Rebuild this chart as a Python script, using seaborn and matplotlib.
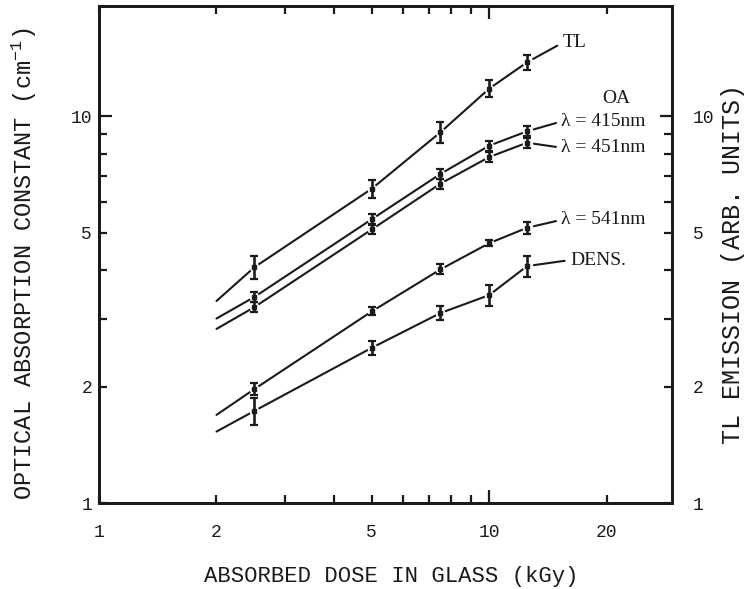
import numpy as np
import pandas as pd
import matplotlib
matplotlib.use("Agg")
import matplotlib.pyplot as plt
import seaborn as sns
from matplotlib.ticker import FixedLocator, FuncFormatter

# ---------------- data ----------------
dose = [2.5, 5.0, 7.5, 10.0, 12.5]                       # kGy
series_names = ["TL", "λ = 415nm", "λ = 451nm", "λ = 541nm", "DENS."]
tl    = [4.07, 6.50, 9.10, 11.80, 13.80]
oa415 = [3.41, 5.42, 7.10, 8.40, 9.15]
oa451 = [3.21, 5.10, 6.70, 7.85, 8.55]
oa541 = [1.97, 3.13, 4.02, 4.70, 5.15]
dens  = [1.73, 2.52, 3.10, 3.45, 4.10]
tl_err    = [0.28, 0.36, 0.55, 0.59, 0.62]
oa415_err = [0.10, 0.16, 0.21, 0.25, 0.27]
oa451_err = [0.10, 0.15, 0.20, 0.24, 0.26]
oa541_err = [0.07, 0.075, 0.12, 0.09, 0.18]
dens_err  = [0.14, 0.11, 0.125, 0.21, 0.25]
line_start_dose = 2.0
line_start = [3.33, 3.00, 2.82, 1.69, 1.53]               # value of each fitted line at 2 kGy
x_tick_values = [1, 2, 5, 10, 20]
x_tick_labels = ["1", "2", "5", "10", "20"]
y_tick_values = [1, 2, 5, 10]
y_tick_labels = ["1", "2", "5", "10"]

all_vals = [tl, oa415, oa451, oa541, dens]
all_errs = [tl_err, oa415_err, oa451_err, oa541_err, dens_err]

# label anchor positions (data coords) for the end-of-line annotations
label_pos = [(15.4, 15.5), (15.3, 9.7), (15.3, 8.3), (15.3, 5.4), (16.1, 4.25)]

# ---------------- style ----------------
sns.set_style("white")
plt.rcParams['font.family'] = ['Liberation Mono', 'DejaVu Sans']
plt.rcParams['mathtext.fontset'] = 'custom'
plt.rcParams['mathtext.rm'] = 'Liberation Mono'
plt.rcParams['mathtext.it'] = 'Liberation Mono'
ink = '#1a1a1a'

W, H = 749, 589
fig = plt.figure(figsize=(W / 100, H / 100), dpi=100)
fig.patch.set_facecolor('white')
L, R, T, B = 99, 672, 6, 503
ax = fig.add_axes([L / W, (H - B) / H, (R - L) / W, (B - T) / H])
ax.set_xscale('log')
ax.set_yscale('log')

rows = []
for name, s0, vals in zip(series_names, line_start, all_vals):
    rows.append((name, line_start_dose, s0))
    for d, v in zip(dose, vals):
        rows.append((name, d, v))
df = pd.DataFrame(rows, columns=['series', 'dose', 'value'])

sns.lineplot(data=df, x='dose', y='value', hue='series', hue_order=series_names,
             palette=[ink] * len(series_names), estimator=None, legend=False,
             linewidth=1.5, ax=ax, zorder=2)

for vals, errs in zip(all_vals, all_errs):
    ax.plot(dose, vals, 'o', color='white', ms=6, zorder=2.5)
    ax.errorbar(dose, vals, yerr=errs, fmt='s', color=ink, ms=2.5,
                ecolor=ink, elinewidth=1.9, capsize=2.8, capthick=1.6, zorder=3)

text_kw = dict(fontsize=14, family=['Liberation Serif', 'DejaVu Serif'], color=ink)
for name, vals, (lx, ly) in zip(series_names, all_vals, label_pos):
    ax.annotate(name, xy=(dose[-1], vals[-1]), xytext=(lx, ly), textcoords='data',
                ha='left', va='center',
                arrowprops=dict(arrowstyle='-', color=ink, lw=1.5, shrinkA=1.5,
                                shrinkB=5, relpos=(0, 0.5)),
                **text_kw)
ax.text(21.2, 11.1, 'OA', ha='center', va='center', **text_kw)

ax.set_xlim(1, 29.4)
ax.set_ylim(1, 19.3)

xl = dict(zip(x_tick_values, x_tick_labels))
yl = dict(zip(y_tick_values, y_tick_labels))
xfmt = FuncFormatter(lambda v, p: xl.get(int(round(v)), ''))
yfmt = FuncFormatter(lambda v, p: yl.get(int(round(v)), ''))

ax.xaxis.set_major_locator(FixedLocator([10]))
ax.xaxis.set_minor_locator(FixedLocator([1, 2, 3, 4, 5, 6, 7, 8, 9, 20]))
ax.xaxis.set_major_formatter(xfmt)
ax.xaxis.set_minor_formatter(xfmt)
ax.yaxis.set_major_locator(FixedLocator([10]))
ax.yaxis.set_minor_locator(FixedLocator([1, 2, 3, 4, 5, 6, 7, 8, 9]))
ax.yaxis.set_major_formatter(yfmt)
ax.yaxis.set_minor_formatter(yfmt)

ax.tick_params(axis='x', which='both', direction='in', top=True, bottom=True,
               labelsize=13, pad=15, width=1.6, color=ink, labelcolor=ink)
ax.tick_params(axis='x', which='major', length=9.5)
ax.tick_params(axis='x', which='minor', length=6)
ax.tick_params(axis='y', which='both', direction='in', left=True, right=False,
               labelsize=13, pad=5, width=1.6, color=ink, labelcolor=ink)
ax.tick_params(axis='y', which='major', length=9)
ax.tick_params(axis='y', which='minor', length=6)

ax2 = ax.twinx()
ax2.set_yscale('log')
ax2.set_ylim(1, 19.3)
ax2.yaxis.set_major_locator(FixedLocator([10]))
ax2.yaxis.set_minor_locator(FixedLocator([1, 2, 3, 4, 5, 6, 7, 8, 9]))
ax2.yaxis.set_major_formatter(yfmt)
ax2.yaxis.set_minor_formatter(yfmt)
ax2.tick_params(axis='y', which='both', direction='in', right=True,
                labelsize=13, pad=15, width=1.6, color=ink, labelcolor=ink)
ax2.tick_params(axis='y', which='major', length=9)
ax2.tick_params(axis='y', which='minor', length=6)

for a in (ax, ax2):
    for sp in a.spines.values():
        sp.set_linewidth(2.0)
        sp.set_color(ink)

ax.set_xlabel("ABSORBED DOSE IN GLASS (kGy)", fontsize=16, color=ink)
ax.xaxis.set_label_coords(0.51, -0.127)
ax.set_ylabel("OPTICAL ABSORPTION CONSTANT (cm$^{-1}$)", fontsize=17, color=ink)
ax.yaxis.label.set_va('center')
ax.yaxis.set_label_coords(-0.131, 0.481)
ax2.set_ylabel("TL EMISSION (ARB. UNITS)", fontsize=18, color=ink, rotation=90)
ax2.yaxis.label.set_va('center')
ax2.yaxis.set_label_coords(1.106, 0.48)

fig.savefig("out.png", dpi=100, facecolor='white')
